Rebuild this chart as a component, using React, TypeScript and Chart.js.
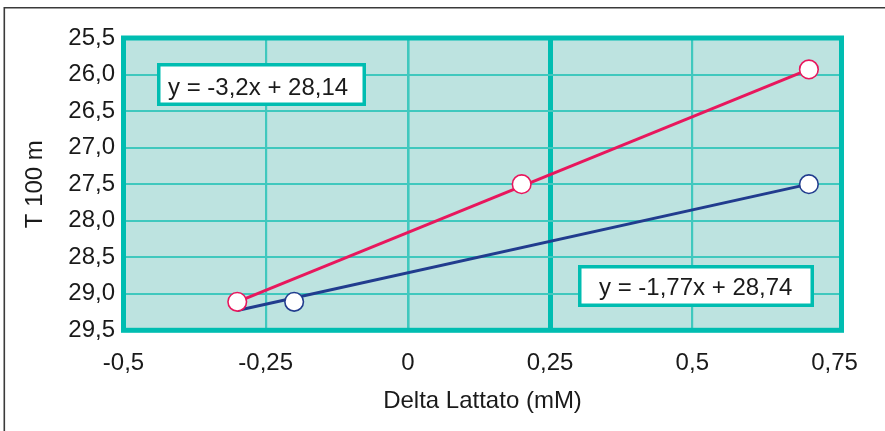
import React, { useEffect, useRef } from "react";
import { Chart, registerables } from "chart.js";

Chart.register(...registerables);

// ---- data ----
const redPointsX = [-0.3, 0.2, 0.705];
const redPointsY = [29.11, 27.5, 25.93];
const bluePointsX = [-0.2, 0.705];
const bluePointsY = [29.11, 27.5];
const redTrendX = [-0.3, 0.705];
const redTrendY = [29.11, 25.93];
const blueTrendX = [-0.3, 0.705];
const blueTrendY = [29.23, 27.5];
const xTickValues = [-0.5, -0.25, 0, 0.25, 0.5, 0.75];
const xTickLabels = ["-0,5", "-0,25", "0", "0,25", "0,5", "0,75"];
const yTickValues = [25.5, 26, 26.5, 27, 27.5, 28, 28.5, 29, 29.5];
const yTickLabels = ["25,5", "26,0", "26,5", "27,0", "27,5", "28,0", "28,5", "29,0", "29,5"];
const redEquation = "y = -3,2x + 28,14";
const blueEquation = "y = -1,77x + 28,74";
const xTitle = "Delta Lattato (mM)";
const yTitle = "T 100 m";

// ---- styles ----
const FONT = "'Liberation Sans', Arial, sans-serif";
const TEAL = "#00BDB1";
const GRID = "#40C8BE";
const BG = "#BDE3E0";
const RED = "#E8175D";
const BLUE = "#213C8E";
const TEXT = "#1a1a1a";

const toXY = (xs: number[], ys: number[]) => xs.map((x, i) => ({ x, y: ys[i] }));

const decorPlugin = {
  id: "decor",
  beforeDraw(chart: any) {
    const { ctx, chartArea: a } = chart;
    ctx.save();
    ctx.fillStyle = "#ffffff";
    ctx.fillRect(0, 0, chart.width, chart.height);
    ctx.fillStyle = BG;
    ctx.fillRect(a.left, a.top, a.right - a.left, a.bottom - a.top);
    // outer frame
    ctx.strokeStyle = "#3a3a3a";
    ctx.lineWidth = 1.6;
    ctx.beginPath();
    ctx.moveTo(4.3, chart.height);
    ctx.lineTo(4.3, 7.7);
    ctx.lineTo(chart.width, 7.7);
    ctx.stroke();
    ctx.restore();
  },
  beforeDatasetsDraw(chart: any) {
    const { ctx, chartArea: a } = chart;
    ctx.save();
    ctx.strokeStyle = TEAL;
    ctx.lineWidth = 5;
    ctx.strokeRect(a.left, a.top, a.right - a.left, a.bottom - a.top);
    ctx.restore();
  },
  afterDraw(chart: any) {
    const { ctx } = chart;
    const boxes = [
      { x: 157, y: 63, w: 209, h: 43, tx: 168, ty: 95, text: redEquation },
      { x: 578, y: 265, w: 236, h: 42, tx: 599, ty: 295, text: blueEquation },
    ];
    ctx.save();
    for (const b of boxes) {
      ctx.fillStyle = "#ffffff";
      ctx.fillRect(b.x, b.y, b.w, b.h);
      ctx.strokeStyle = TEAL;
      ctx.lineWidth = 3.5;
      ctx.strokeRect(b.x + 1.75, b.y + 1.75, b.w - 3.5, b.h - 3.5);
      ctx.fillStyle = TEXT;
      ctx.font = `24px ${FONT}`;
      ctx.textAlign = "left";
      ctx.textBaseline = "alphabetic";
      ctx.fillText(b.text, b.tx, b.ty);
    }
    ctx.restore();
  },
};

export default function App() {
  const ref = useRef<HTMLCanvasElement>(null);

  useEffect(() => {
    document.body.style.margin = "0";
    const canvas = ref.current!;
    const chart = new Chart(canvas, {
      type: "scatter",
      data: {
        datasets: [
          {
            label: "red points",
            data: toXY(redPointsX, redPointsY),
            showLine: false,
            pointRadius: 9.3,
            pointBackgroundColor: "#ffffff",
            pointBorderColor: RED,
            pointBorderWidth: 1.6,
            order: 0,
          },
          {
            label: "blue points",
            data: toXY(bluePointsX, bluePointsY),
            showLine: false,
            pointRadius: 9.3,
            pointBackgroundColor: "#ffffff",
            pointBorderColor: BLUE,
            pointBorderWidth: 1.6,
            order: 0,
          },
          {
            label: "red trend",
            data: toXY(redTrendX, redTrendY),
            showLine: true,
            borderColor: RED,
            borderWidth: 3,
            pointRadius: 0,
            order: 1,
          },
          {
            label: "blue trend",
            data: toXY(blueTrendX, blueTrendY),
            showLine: true,
            borderColor: BLUE,
            borderWidth: 3,
            pointRadius: 0,
            order: 1,
          },
        ],
      },
      options: {
        animation: false,
        responsive: false,
        layout: { padding: { left: 0, top: 38, right: 43.5, bottom: 0 } },
        plugins: { legend: { display: false }, tooltip: { enabled: false } },
        scales: {
          x: {
            type: "linear",
            min: -0.5,
            max: 0.7623,
            afterBuildTicks: (s: any) => {
              s.ticks = xTickValues.map((v) => ({ value: v }));
            },
            afterFit: (s: any) => {
              s.height = 100.7;
            },
            ticks: {
              callback: (_v: any, i: number) => xTickLabels[i],
              font: { family: FONT, size: 24 },
              color: TEXT,
              padding: 19,
              maxRotation: 0,
              autoSkip: false,
            },
            grid: {
              drawTicks: false,
              color: (c: any) => (c.tick && c.tick.value === 0.25 ? TEAL : GRID),
              lineWidth: (c: any) => {
                const v = c.tick ? c.tick.value : null;
                if (v === 0.25) return 5;
                if (v === 0) return 2.6;
                if (v === -0.5 || v === 0.75) return 0;
                return 2.2;
              },
            },
            border: { display: false },
            title: {
              display: true,
              text: xTitle,
              font: { family: FONT, size: 24 },
              color: TEXT,
              padding: { top: 0, bottom: 15 },
            },
          },
          y: {
            type: "linear",
            reverse: true,
            min: 25.5,
            max: 29.5,
            afterBuildTicks: (s: any) => {
              s.ticks = yTickValues.map((v) => ({ value: v }));
            },
            afterFit: (s: any) => {
              s.width = 123.5;
            },
            ticks: {
              callback: (_v: any, i: number) => yTickLabels[i],
              font: { family: FONT, size: 24 },
              color: TEXT,
              padding: 8.5,
              autoSkip: false,
            },
            grid: {
              drawTicks: false,
              color: GRID,
              lineWidth: (c: any) => {
                const v = c.tick ? c.tick.value : null;
                if (v === 25.5 || v === 29.5) return 0;
                return 2;
              },
            },
            border: { display: false },
            title: {
              display: true,
              text: yTitle,
              font: { family: FONT, size: 24 },
              color: TEXT,
              padding: { top: 21, bottom: 0 },
            },
          },
        },
      },
      plugins: [decorPlugin],
    });
    return () => chart.destroy();
  }, []);

  return (
    <div style={{ width: 885, height: 431 }}>
      <canvas ref={ref} width={885} height={431} style={{ display: "block" }} />
    </div>
  );
}
